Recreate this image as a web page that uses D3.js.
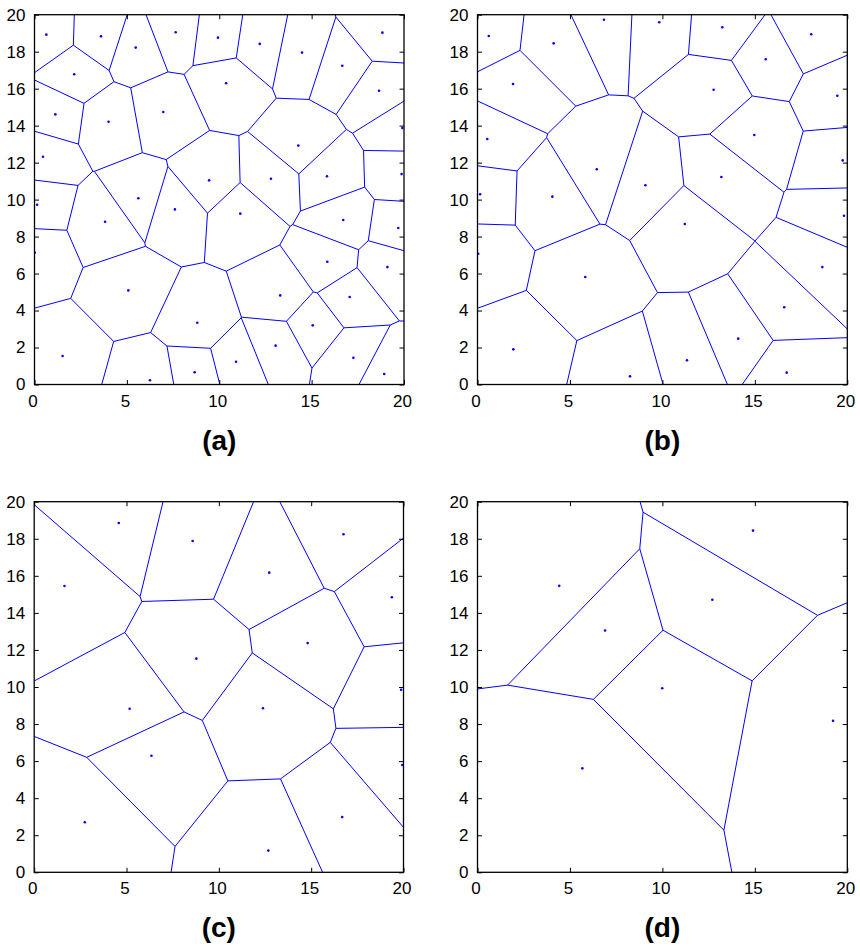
<!DOCTYPE html>
<html>
<head>
<meta charset="utf-8">
<script src="https://cdn.jsdelivr.net/npm/d3@7"></script>
<style>
  html, body { margin: 0; padding: 0; background: #fff; }
  svg { display: block; }
  .tick text { font-family: "Liberation Sans", Arial, Helvetica, sans-serif; }
</style>
</head>
<body>
<svg id="chart" width="860" height="947"></svg>
<script>
// ---- data (seed points) ----
const pointsA = [
  [0.64,18.92],[3.60,18.83],[5.48,18.22],[7.64,19.05],[9.93,18.76],[12.19,18.42],
  [14.48,17.95],[18.83,19.03],[16.66,17.24],[2.15,16.78],[10.37,16.29],[18.65,15.89],
  [1.13,14.61],[4.01,14.21],[6.97,14.74],[19.91,13.87],[0.46,12.32],[14.28,12.92],
  [19.87,11.38],[9.45,11.04],[12.80,11.13],[15.83,11.26],[5.62,10.07],
  [0.14,9.72],[7.60,9.47],[3.82,8.80],[11.14,9.24],[16.71,8.90],[19.69,8.46],
  [0.01,7.13],[15.85,6.64],[19.10,6.35],[5.08,5.09],[13.30,4.82],[17.06,4.73],
  [8.81,3.34],[15.06,3.20],[13.05,2.10],[1.52,1.54],[10.91,1.23],[17.26,1.45],
  [8.67,0.66],[18.93,0.57],[6.25,0.23]
];
const pointsB = [
  [0.61,18.85],[4.12,18.45],[6.84,19.73],[9.83,19.59],[13.24,19.32],[18.05,18.94],
  [15.59,17.59],[1.92,16.25],[12.77,15.94],[19.46,15.62],[0.53,13.28],[14.97,13.49],
  [19.75,12.12],[6.45,11.64],[9.08,10.78],[13.19,11.22],[0.14,10.29],[4.05,10.16],
  [19.82,9.13],[11.21,8.68],[0.04,7.07],[5.83,5.81],[18.65,6.35],[16.59,4.18],
  [14.10,2.48],[1.94,1.90],[11.33,1.31],[8.25,0.44],[16.72,0.64]
];
const pointsC = [
  [4.58,18.85],[8.58,17.88],[16.75,18.24],[1.64,15.45],[12.73,16.17],[19.37,14.84],
  [14.81,12.37],[8.78,11.53],[19.87,9.85],[5.17,8.83],[12.39,8.85],[6.35,6.29],
  [19.93,5.79],[2.74,2.70],[16.68,2.98],[12.68,1.17]
];
const pointsD = [
  [14.90,18.44],[4.42,15.46],[12.70,14.71],[6.90,13.05],[9.99,9.93],[19.23,8.18],[5.67,5.61]
];
const xTicks = [0, 5, 10, 15, 20];
const yTicks = [0, 2, 4, 6, 8, 10, 12, 14, 16, 18, 20];
const panelLabels = ["(a)", "(b)", "(c)", "(d)"];
const domain = [0, 20];

// ---- layout ----
const panels = [
  { pts: pointsA, label: panelLabels[0], x0: 34.5, x1: 404,   y0: 384.5, y1: 14.7 },
  { pts: pointsB, label: panelLabels[1], x0: 477.5, x1: 847.3, y0: 384.5, y1: 14.7 },
  { pts: pointsC, label: panelLabels[2], x0: 34.2, x1: 403.5, y0: 872.3, y1: 501.7 },
  { pts: pointsD, label: panelLabels[3], x0: 477.5, x1: 847.3, y0: 872.3, y1: 501.7 }
];

const svg = d3.select("#chart");
const blue = "#0000ff";

panels.forEach((p, i) => {
  const x = d3.scaleLinear().domain(domain).range([p.x0, p.x1]);
  const y = d3.scaleLinear().domain(domain).range([p.y0, p.y1]);
  const g = svg.append("g");

  const clipId = "clip" + i;
  svg.append("clipPath").attr("id", clipId)
    .append("rect")
    .attr("x", p.x0).attr("y", p.y1)
    .attr("width", p.x1 - p.x0).attr("height", p.y0 - p.y1);

  // Voronoi edges computed in data space, drawn through scales
  const delaunay = d3.Delaunay.from(p.pts);
  const vor = delaunay.voronoi([domain[0], domain[0], domain[1], domain[1]]);
  const path = d3.path();
  const ctx = {
    moveTo: (a, b) => path.moveTo(x(a), y(b)),
    lineTo: (a, b) => path.lineTo(x(a), y(b)),
    closePath: () => path.closePath()
  };
  vor.render(ctx);
  g.append("path")
    .attr("clip-path", `url(#${clipId})`)
    .attr("d", path.toString())
    .attr("fill", "none")
    .attr("stroke", blue)
    .attr("stroke-width", 1);

  // seed points
  g.append("g").attr("clip-path", `url(#${clipId})`)
    .selectAll("circle").data(p.pts).join("circle")
    .attr("cx", d => x(d[0])).attr("cy", d => y(d[1]))
    .attr("r", 1.3).attr("fill", blue);

  // axes with inward ticks
  const tick = 4.5;
  const font = "Liberation Sans, Arial, Helvetica, sans-serif";
  const xb = g.append("g").attr("transform", `translate(0,${p.y0})`)
    .call(d3.axisBottom(x).tickValues(xTicks).tickSizeInner(-tick).tickSizeOuter(0).tickPadding(10));
  const xt = g.append("g").attr("transform", `translate(0,${p.y1})`)
    .call(d3.axisTop(x).tickValues(xTicks).tickSizeInner(-tick).tickSizeOuter(0).tickFormat(""));
  const yl = g.append("g").attr("transform", `translate(${p.x0},0)`)
    .call(d3.axisLeft(y).tickValues(yTicks).tickSizeInner(-tick).tickSizeOuter(0).tickPadding(9));
  const yr = g.append("g").attr("transform", `translate(${p.x1},0)`)
    .call(d3.axisRight(y).tickValues(yTicks).tickSizeInner(-tick).tickSizeOuter(0).tickFormat(""));
  [xb, xt, yl, yr].forEach(a => {
    a.select(".domain").remove();
    a.selectAll("line").attr("stroke", "#000").attr("stroke-width", 1);
    a.selectAll("text").attr("font-size", 17).attr("font-family", font).attr("fill", "#000");
  });
  xb.selectAll("text").attr("dx", -2);

  // frame
  g.append("rect")
    .attr("x", p.x0).attr("y", p.y1)
    .attr("width", p.x1 - p.x0).attr("height", p.y0 - p.y1)
    .attr("fill", "none").attr("stroke", "#000").attr("stroke-width", 1.3);

  // panel label
  g.append("text")
    .attr("x", (p.x0 + p.x1) / 2)
    .attr("y", p.y0 + 65)
    .attr("text-anchor", "middle")
    .attr("font-family", font)
    .attr("font-weight", "bold")
    .attr("font-size", 28)
    .text(p.label);
});
</script>
</body>
</html>
